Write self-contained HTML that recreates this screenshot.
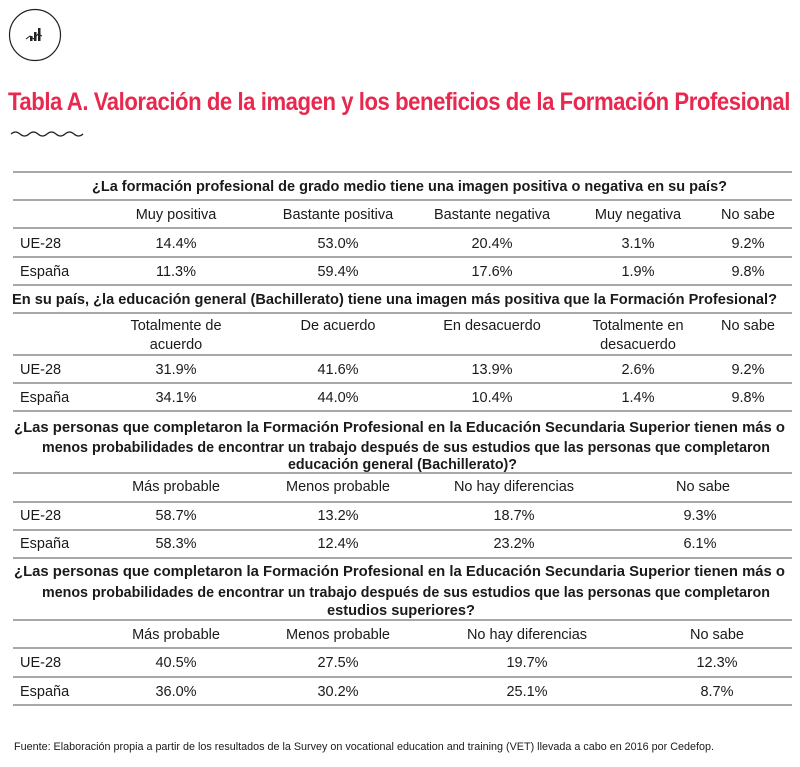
<!DOCTYPE html>
<html><head><meta charset="utf-8"><style>
html,body{margin:0;padding:0;background:#fff;}
svg{display:block}
text{font-family:"Liberation Sans",sans-serif;fill:#1a1a1a;font-size:14.5px}
.c{text-anchor:middle}
.b{font-weight:bold}
</style></head><body>
<svg width="800" height="767" viewBox="0 0 800 767">
<circle cx="35" cy="35" r="25.5" fill="none" stroke="#222" stroke-width="1.2"/>
<g fill="#222">
<rect x="30" y="36" width="2.5" height="5"/><rect x="34" y="32" width="2.5" height="9"/><rect x="38" y="28" width="2.5" height="13"/>
</g>
<path d="M26 39 L30 36 L34 39 L38 34 L42 36" stroke="#222" stroke-width="1" fill="none"/>
<text x="8" y="110" textLength="782" lengthAdjust="spacingAndGlyphs" style="font-size:25px;fill:#e8284e;font-weight:bold;letter-spacing:-0.5px">Tabla A. Valoración de la imagen y los beneficios de la Formación Profesional</text>
<path d="M11 134 q4.5 -4 9 0 t9 0 t9 0 t9 0 t9 0 t9 0 t9 0 t9 0" stroke="#222" stroke-width="1.2" fill="none"/>
<g stroke="#a8a8a8" stroke-width="2">
<line x1="13" x2="792" y1="172" y2="172"/><line x1="13" x2="792" y1="200" y2="200"/><line x1="13" x2="792" y1="228" y2="228"/><line x1="13" x2="792" y1="257" y2="257"/><line x1="13" x2="792" y1="285" y2="285"/><line x1="13" x2="792" y1="313" y2="313"/><line x1="13" x2="792" y1="355" y2="355"/><line x1="13" x2="792" y1="383" y2="383"/><line x1="13" x2="792" y1="411" y2="411"/><line x1="13" x2="792" y1="473" y2="473"/><line x1="13" x2="792" y1="502" y2="502"/><line x1="13" x2="792" y1="530" y2="530"/><line x1="13" x2="792" y1="558" y2="558"/><line x1="13" x2="792" y1="620" y2="620"/><line x1="13" x2="792" y1="648" y2="648"/><line x1="13" x2="792" y1="677" y2="677"/><line x1="13" x2="792" y1="705" y2="705"/>
</g>
<text class="b" x="92" y="191" textLength="635" lengthAdjust="spacingAndGlyphs">¿La formación profesional de grado medio tiene una imagen positiva o negativa en su país?</text>
<text class="c" x="176" y="219">Muy positiva</text><text class="c" x="338" y="219">Bastante positiva</text><text class="c" x="492" y="219">Bastante negativa</text><text class="c" x="638" y="219">Muy negativa</text><text class="c" x="748" y="219">No sabe</text>
<text x="20" y="248">UE-28</text><text class="c" x="176" y="248">14.4%</text><text class="c" x="338" y="248">53.0%</text><text class="c" x="492" y="248">20.4%</text><text class="c" x="638" y="248">3.1%</text><text class="c" x="748" y="248">9.2%</text>
<text x="20" y="276">España</text><text class="c" x="176" y="276">11.3%</text><text class="c" x="338" y="276">59.4%</text><text class="c" x="492" y="276">17.6%</text><text class="c" x="638" y="276">1.9%</text><text class="c" x="748" y="276">9.8%</text>

<text class="b" x="12" y="304" textLength="765" lengthAdjust="spacingAndGlyphs">En su país, ¿la educación general (Bachillerato) tiene una imagen más positiva que la Formación Profesional?</text>
<text class="c" x="176" y="330">Totalmente de</text><text class="c" x="176" y="349">acuerdo</text><text class="c" x="338" y="330">De acuerdo</text><text class="c" x="492" y="330">En desacuerdo</text><text class="c" x="638" y="330">Totalmente en</text><text class="c" x="638" y="349">desacuerdo</text><text class="c" x="748" y="330">No sabe</text>
<text x="20" y="374">UE-28</text><text class="c" x="176" y="374">31.9%</text><text class="c" x="338" y="374">41.6%</text><text class="c" x="492" y="374">13.9%</text><text class="c" x="638" y="374">2.6%</text><text class="c" x="748" y="374">9.2%</text>
<text x="20" y="402">España</text><text class="c" x="176" y="402">34.1%</text><text class="c" x="338" y="402">44.0%</text><text class="c" x="492" y="402">10.4%</text><text class="c" x="638" y="402">1.4%</text><text class="c" x="748" y="402">9.8%</text>

<text class="b" x="14" y="432" textLength="771" lengthAdjust="spacingAndGlyphs">¿Las personas que completaron la Formación Profesional en la Educación Secundaria Superior tienen más o</text>
<text class="b" x="42" y="452" textLength="728" lengthAdjust="spacingAndGlyphs">menos probabilidades de encontrar un trabajo después de sus estudios que las personas que completaron</text>
<text class="b" x="288" y="469" textLength="229" lengthAdjust="spacingAndGlyphs">educación general (Bachillerato)?</text>
<text class="c" x="176" y="491">Más probable</text><text class="c" x="338" y="491">Menos probable</text><text class="c" x="514" y="491">No hay diferencias</text><text class="c" x="703" y="491">No sabe</text>
<text x="20" y="520">UE-28</text><text class="c" x="176" y="520">58.7%</text><text class="c" x="338" y="520">13.2%</text><text class="c" x="514" y="520">18.7%</text><text class="c" x="700" y="520">9.3%</text>
<text x="20" y="548">España</text><text class="c" x="176" y="548">58.3%</text><text class="c" x="338" y="548">12.4%</text><text class="c" x="514" y="548">23.2%</text><text class="c" x="700" y="548">6.1%</text>

<text class="b" x="14" y="576" textLength="771" lengthAdjust="spacingAndGlyphs">¿Las personas que completaron la Formación Profesional en la Educación Secundaria Superior tienen más o</text>
<text class="b" x="42" y="597" textLength="728" lengthAdjust="spacingAndGlyphs">menos probabilidades de encontrar un trabajo después de sus estudios que las personas que completaron</text>
<text class="b" x="327" y="615" textLength="148" lengthAdjust="spacingAndGlyphs">estudios superiores?</text>
<text class="c" x="176" y="639">Más probable</text><text class="c" x="338" y="639">Menos probable</text><text class="c" x="527" y="639">No hay diferencias</text><text class="c" x="717" y="639">No sabe</text>
<text x="20" y="667">UE-28</text><text class="c" x="176" y="667">40.5%</text><text class="c" x="338" y="667">27.5%</text><text class="c" x="527" y="667">19.7%</text><text class="c" x="717" y="667">12.3%</text>
<text x="20" y="696">España</text><text class="c" x="176" y="696">36.0%</text><text class="c" x="338" y="696">30.2%</text><text class="c" x="527" y="696">25.1%</text><text class="c" x="717" y="696">8.7%</text>

<text x="14" y="750" textLength="700" lengthAdjust="spacingAndGlyphs" style="font-size:11px">Fuente:  Elaboración propia a partir de los resultados de la Survey on vocational education and training (VET) llevada a cabo en 2016 por Cedefop.</text>
</svg>
</body></html>
